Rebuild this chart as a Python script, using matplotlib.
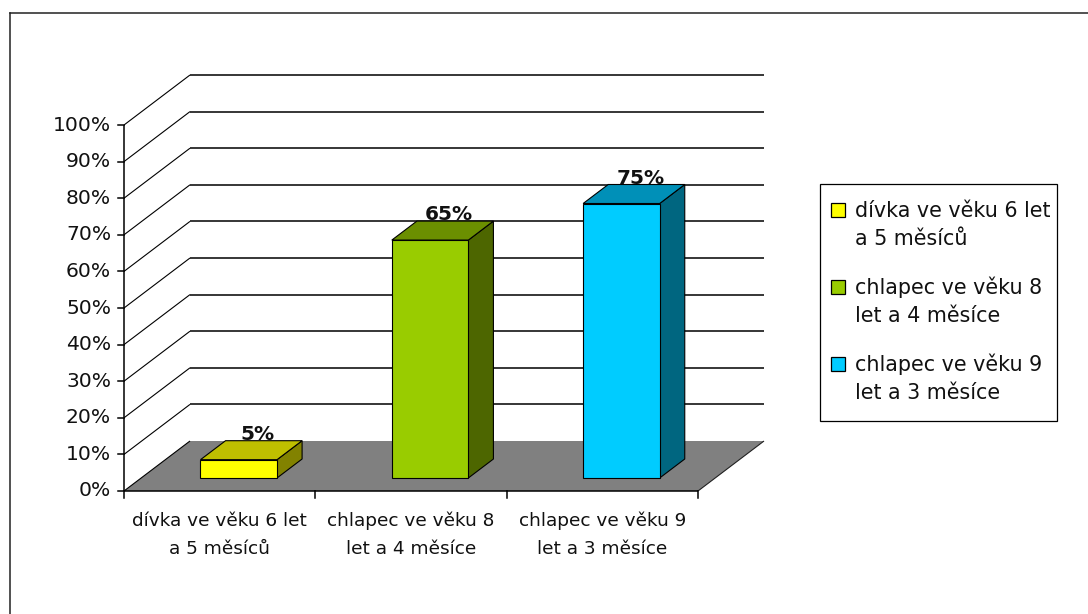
import matplotlib
matplotlib.use("Agg")
import matplotlib.pyplot as plt
from matplotlib.patches import Polygon, Rectangle
from matplotlib.lines import Line2D

# ---- data -------------------------------------------------------------
categories = [
    ["dívka ve věku 6 let", "a 5 měsíců"],
    ["chlapec ve věku 8", "let a 4 měsíce"],
    ["chlapec ve věku 9", "let a 3 měsíce"],
]
values = [5, 65, 75]
value_labels = ["5%", "65%", "75%"]
y_ticks = [0, 10, 20, 30, 40, 50, 60, 70, 80, 90, 100]
y_tick_labels = [f"{t}%" for t in y_ticks]

front_colors = ["#FFFF00", "#99CC00", "#00CCFF"]
top_colors = ["#BFBF00", "#6B8F00", "#0090B8"]
side_colors = ["#828200", "#4D6600", "#006680"]

# ---- figure / oblique projection -------------------------------------
W, H = 1088, 614
fig = plt.figure(figsize=(W / 100, H / 100), dpi=100)
fig.patch.set_facecolor("white")

N = len(values)
PX_CAT = 574 / N          # pixels per category on the front plane
PX_VAL = 366 / 100        # pixels per percent
DEPTH_PX = (66, 50)       # screen shift of the back wall
KX = DEPTH_PX[0] / PX_CAT
KY = DEPTH_PX[1] / PX_VAL


def P(c, v, z):
    """Oblique projection: category, value, depth (0 front .. 1 back)."""
    return (c + z * KX, v + z * KY)


def poly(pts, **kw):
    ax.add_patch(Polygon([P(*p) for p in pts], closed=True, **kw))


def seg(pts, **kw):
    xy = [P(*p) for p in pts]
    ax.plot([q[0] for q in xy], [q[1] for q in xy], solid_capstyle="butt",
            clip_on=False, **kw)


ax = fig.add_axes([124 / W, (H - 491) / H, (574 + 66) / W, (366 + 50) / H])
ax.set_xlim(0, N + KX)
ax.set_ylim(0, 100 + KY)
ax.axis("off")

# floor
poly([(0, 0, 0), (N, 0, 0), (N, 0, 1), (0, 0, 1)],
     facecolor="#808080", edgecolor="none", zorder=1)
seg([(N, 0, 0), (N, 0, 1)], color="#202020", lw=0.8, zorder=2)
seg([(0, 0, 0), (0, 0, 1)], color="black", lw=0.8, zorder=2)

# side wall diagonals and back wall gridlines
for t in y_ticks[1:]:
    seg([(0, t, 0), (0, t, 1)], color="black", lw=0.8, zorder=2)
    seg([(0, t, 1), (N, t, 1)], color="black", lw=1.1, zorder=2)

# front axes
seg([(0, 0, 0), (0, 100, 0)], color="black", lw=1.1, zorder=3)
seg([(0, 0, 0), (N, 0, 0)], color="black", lw=1.1, zorder=3)
tick_x = 6 / PX_CAT
tick_y = 7 / PX_VAL
for t, lab in zip(y_ticks, y_tick_labels):
    x0, y0 = P(0, t, 0)
    ax.plot([x0 - tick_x, x0], [y0, y0], color="black", lw=1.1, clip_on=False, zorder=3)
    ax.annotate(lab, (x0, y0), xytext=(-13, 0), textcoords="offset pixels",
                ha="right", va="center", fontsize=14.6, color="#111111",
                annotation_clip=False)
for i in range(N + 1):
    x0, y0 = P(i, 0, 0)
    ax.plot([x0, x0], [y0, y0 - tick_y], color="black", lw=1.1, clip_on=False, zorder=3)

# category labels
for i, lines in enumerate(categories):
    x0, y0 = P(i + 0.5, 0, 0)
    for k, line in enumerate(lines):
        ax.annotate(line, (x0, y0), xytext=(0, -35 - 28.3 * k),
                    textcoords="offset pixels", ha="center", va="baseline",
                    fontsize=13.3, color="#111111", annotation_clip=False)

# 3-D columns
BAR_W = 0.40
Z0, Z1 = 0.26, 0.64
for i, v in enumerate(values):
    c0 = i + 0.51 - BAR_W / 2
    c1 = i + 0.51 + BAR_W / 2
    ek = dict(edgecolor="black", lw=0.8, zorder=5, joinstyle="miter")
    poly([(c1, 0, Z0), (c1, 0, Z1), (c1, v, Z1), (c1, v, Z0)],
         facecolor=side_colors[i], **ek)
    poly([(c0, v, Z0), (c1, v, Z0), (c1, v, Z1), (c0, v, Z1)],
         facecolor=top_colors[i], **ek)
    poly([(c0, 0, Z0), (c1, 0, Z0), (c1, v, Z0), (c0, v, Z0)],
         facecolor=front_colors[i], **ek)
    ax.annotate(value_labels[i], P(i + 0.51, v, Z1), xytext=(-6, 1),
                textcoords="offset pixels", ha="center", va="baseline",
                fontsize=14.5, fontweight="bold", color="#111111",
                zorder=6, annotation_clip=False)

# ---- legend -------------------------------------------------------------
def fx(px):
    return px / W


def fy(py):
    return 1 - py / H


fig.add_artist(Rectangle((fx(820), fy(421)), fx(1057) - fx(820), fy(184) - fy(421),
                         transform=fig.transFigure, facecolor="white",
                         edgecolor="black", lw=0.9))
for i, lines in enumerate(categories):
    base = 217 + 77 * i
    fig.add_artist(Rectangle((fx(831), fy(base)), 14 / W, 14 / H,
                             transform=fig.transFigure,
                             facecolor=front_colors[i], edgecolor="black", lw=0.9))
    for k, line in enumerate(lines):
        fig.text(fx(855), fy(base + 28.4 * k), line, ha="left", va="baseline",
                 fontsize=14.9, color="#111111")

# ---- outer frame --------------------------------------------------------
fig.add_artist(Line2D([fx(9.5), fx(9.5)], [fy(12.5), 0], transform=fig.transFigure,
                      color="#222222", lw=1.1))
fig.add_artist(Line2D([fx(9.5), 1], [fy(12.5), fy(12.5)], transform=fig.transFigure,
                      color="#222222", lw=1.1))

fig.savefig("out.png", dpi=100)
